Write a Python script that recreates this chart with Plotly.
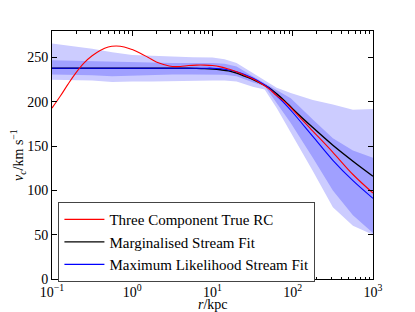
import numpy as np
import plotly.graph_objects as go

# radial grid (log10 r / kpc)
logr_line = [-1.0, -0.9, -0.8, -0.7, -0.6, -0.5, -0.4, -0.3, -0.2, -0.1, 0.0, 0.1, 0.2, 0.3,
             0.4, 0.5, 0.6, 0.7, 0.8, 0.9, 1.0, 1.1, 1.2, 1.3, 1.4, 1.5, 1.6, 1.7, 1.8, 1.9,
             2.0, 2.25, 2.5, 2.75, 3.0]
v_true = [193, 206, 220, 233, 244, 252, 258, 262, 263, 262, 259, 255, 250, 245,
          242, 240, 240, 241, 241.5, 241.5, 241, 239.5, 237, 234, 230, 226, 221, 215, 207, 200,
          191, 167, 143, 118, 97]
v_marg = [238, 238, 238, 238, 238, 238, 238, 238, 238, 238, 238, 238, 238, 238,
          238, 238, 238, 238, 237.8, 237.5, 237, 236.2, 235, 232.5, 229, 225.5, 221, 216, 209, 201,
          192, 171, 151, 133, 116]
v_ml = [238, 238, 238, 238, 238, 238, 238, 238, 238, 238, 238, 238, 238, 238,
        238, 238, 238, 238, 238, 238, 238, 237.3, 236, 234, 231, 227, 222, 216, 207, 198,
        188, 161, 134, 111, 91]

# credible bands
logr_band = [-1.0, -0.75, -0.5, -0.25, 0.0, 0.25, 0.5, 0.75, 1.0, 1.15, 1.3, 1.5, 1.65,
             1.8, 1.975, 2.25, 2.5, 2.75, 3.0]
outer_hi = [266, 263, 260, 256, 253, 252, 251, 250.5, 250, 248, 244, 233, 224,
            216, 210, 202, 197, 191, 192]
inner_hi = [247, 246.5, 246, 245, 245, 244.5, 244, 244, 244, 243, 240, 229, 221,
            213, 204, 180, 159, 145, 137]
inner_lo = [231, 230.5, 230, 229, 230, 230.5, 231, 231, 231, 230.5, 229, 222, 218,
            199, 176, 137, 100, 72, 52]
outer_lo = [225, 224.5, 224, 222.5, 223, 223, 223, 223.5, 224, 224, 223, 217, 214,
            193, 165, 122, 81, 60, 50]

x_ticks = [0.1, 1, 10, 100, 1000]
x_ticklabels = ["10<sup>−1</sup>", "10<sup>0</sup>", "10<sup>1</sup>", "10<sup>2</sup>", "10<sup>3</sup>"]
y_ticks = [0, 50, 100, 150, 200, 250]

r_line = 10 ** np.array(logr_line)
r_band = 10 ** np.array(logr_band)
minor_x = [m * d for d in [0.1, 1, 10, 100] for m in range(2, 10)]

fig = go.Figure()

def band(lo, hi, color):
    xs = list(r_band) + list(r_band[::-1])
    ys = list(hi) + list(lo[::-1])
    fig.add_trace(go.Scatter(x=xs, y=ys, fill="toself", fillcolor=color, mode="lines",
                             line=dict(width=0), hoverinfo="skip", showlegend=False))

band(outer_lo, outer_hi, "rgb(204,204,255)")
band(inner_lo, inner_hi, "rgb(160,160,255)")

fig.add_trace(go.Scatter(x=r_line, y=v_marg, mode="lines", line=dict(color="black", width=1.4, shape="spline"),
                         name="Marginalised Stream Fit", legendrank=2))
fig.add_trace(go.Scatter(x=r_line, y=v_ml, mode="lines", line=dict(color="blue", width=1.1, shape="spline"),
                         name="Maximum Likelihood Stream Fit", legendrank=3))
fig.add_trace(go.Scatter(x=r_line, y=v_true, mode="lines", line=dict(color="red", width=1.1, shape="spline"),
                         name="Three Component True RC", legendrank=1))

serif = "Liberation Serif"
# page body adds an 8px offset, so the figure is 8px smaller than the window
fig.update_layout(
    width=407, height=304,
    margin=dict(l=44, r=42, t=23, b=33),
    paper_bgcolor="white", plot_bgcolor="white",
    font=dict(family=serif, color="black", size=13),
    showlegend=True,
    legend=dict(x=0.02, y=0.31, xanchor="left", yanchor="top",
                bordercolor="#444", borderwidth=1, bgcolor="white",
                font=dict(family=serif, size=15), tracegroupgap=0,
                itemwidth=40),
    xaxis=dict(type="log", range=[-1, 3], tickvals=x_ticks, ticktext=x_ticklabels,
               ticks="inside", ticklen=5, tickcolor="black", showgrid=False, zeroline=False,
               showline=True, linecolor="black", linewidth=1, mirror="ticks", automargin=False,
               minor=dict(tickvals=minor_x, ticks="inside", ticklen=2.5, tickcolor="black", showgrid=False),
               tickfont=dict(family=serif, size=14), ticklabelstandoff=0),
    yaxis=dict(range=[0, 280], tickvals=y_ticks,
               ticks="inside", ticklen=5, tickcolor="black", showgrid=False, zeroline=False,
               showline=True, linecolor="black", linewidth=1, mirror="ticks", automargin=False,
               tickfont=dict(family=serif, size=14)),
    annotations=[
        dict(text="<i>r</i>/kpc", xref="paper", yref="paper", x=0.5, y=-0.104,
             xanchor="center", yanchor="middle", showarrow=False, font=dict(family=serif, size=14)),
        dict(text="<i>v<sub>c</sub></i>/km s<sup>−1</sup>", xref="paper", yref="paper", x=-0.106, y=0.5,
             xanchor="center", yanchor="middle", textangle=-90, showarrow=False,
             font=dict(family=serif, size=14)),
    ],
)

fig.write_html("out.html")
